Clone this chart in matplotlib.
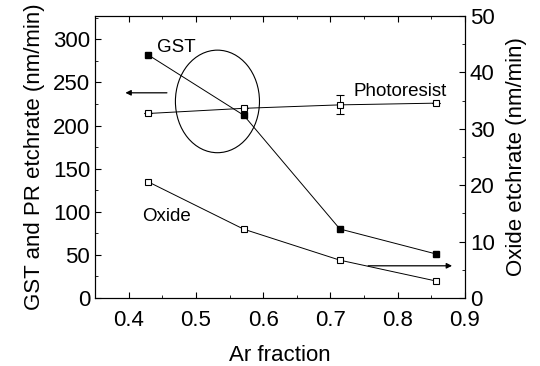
import matplotlib
matplotlib.use("Agg")
import matplotlib.pyplot as plt
from matplotlib.patches import Ellipse
from matplotlib.ticker import MultipleLocator

plt.rcParams["font.family"] = ["Liberation Sans", "DejaVu Sans"]

# data
ar_fraction = [0.429, 0.571, 0.714, 0.857]
gst_rate = [282, 212, 80, 51]
pr_rate = [214, 220, 224, 226]
pr_err = [0, 0, 11, 0]
oxide_rate = [20.6, 12.2, 6.7, 3.0]

fig, ax = plt.subplots(figsize=(5.4, 3.66), dpi=100)
fig.subplots_adjust(left=0.176, right=0.861, top=0.956, bottom=0.186)

ax.plot(ar_fraction, gst_rate, "-s", color="black", lw=0.7, ms=5,
        mfc="black", mec="black")
ax.errorbar(ar_fraction, pr_rate, yerr=pr_err, fmt="-s", color="black", lw=0.7,
            ms=5, mfc="white", mec="black", mew=0.8, capsize=3, elinewidth=0.7)

ax.set_xlim(0.35, 0.9)
ax.set_ylim(0, 327)
ax.xaxis.set_major_locator(MultipleLocator(0.1))
ax.xaxis.set_minor_locator(MultipleLocator(0.05))
ax.yaxis.set_major_locator(MultipleLocator(50))
ax.yaxis.set_minor_locator(MultipleLocator(25))
ax.tick_params(which="both", direction="in", top=True, labelsize=16)
ax.tick_params(axis="x", pad=9)
ax.tick_params(which="major", length=4)
ax.tick_params(which="minor", length=2)
ax.set_xlabel("Ar fraction", fontsize=16, labelpad=10)
ax.set_ylabel("GST and PR etchrate (nm/min)", fontsize=16, labelpad=6)

ax2 = ax.twinx()
ax2.plot(ar_fraction, oxide_rate, "-s", color="black", lw=0.7, ms=5,
         mfc="white", mec="black", mew=0.8)
ax2.set_ylim(0, 50)
ax2.yaxis.set_major_locator(MultipleLocator(10))
ax2.yaxis.set_minor_locator(MultipleLocator(5))
ax2.tick_params(which="both", direction="in", labelsize=16)
ax2.tick_params(which="major", length=4)
ax2.tick_params(which="minor", length=2)
ax2.set_ylabel("Oxide etchrate (nm/min)", fontsize=16, labelpad=8)

# annotations
ax.add_patch(Ellipse((0.532, 228), 0.125, 119, fill=False, color="black", lw=0.8))
ax.annotate("", xy=(0.391, 238), xytext=(0.461, 238),
            arrowprops=dict(arrowstyle="-|>", color="black", lw=0.9, mutation_scale=8))
ax2.annotate("", xy=(0.885, 5.7), xytext=(0.752, 5.7),
             arrowprops=dict(arrowstyle="-|>", color="black", lw=0.9, mutation_scale=8))
ax.text(0.442, 290, "GST", fontsize=13.5, va="center")
ax.text(0.734, 240, "Photoresist", fontsize=13.5, va="center")
ax.text(0.42, 94, "Oxide", fontsize=13.5, va="center")

fig.savefig("out.png", dpi=100)
